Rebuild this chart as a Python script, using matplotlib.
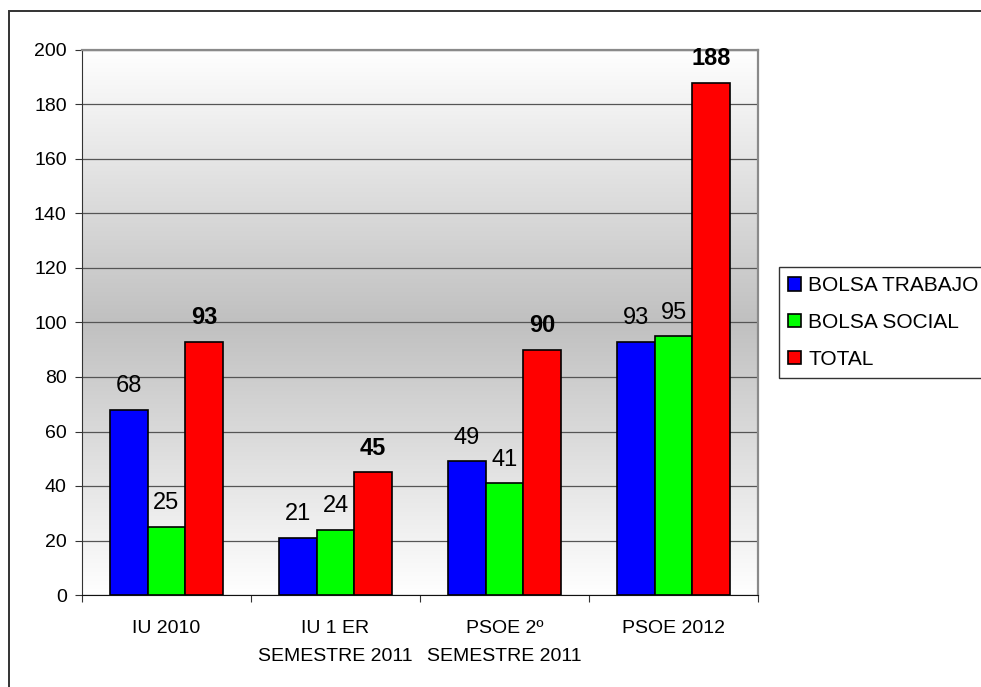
import numpy as np
import matplotlib.pyplot as plt
from matplotlib.colors import LinearSegmentedColormap
from matplotlib.patches import Rectangle

plt.rcParams['font.family'] = ['Liberation Sans', 'DejaVu Sans']

categories = ['IU 2010', 'IU 1 ER\nSEMESTRE 2011', 'PSOE 2º\nSEMESTRE 2011', 'PSOE 2012']
series_names = ['BOLSA TRABAJO', 'BOLSA SOCIAL', 'TOTAL']
bolsa_trabajo = [68, 21, 49, 93]
bolsa_social = [25, 24, 41, 95]
total = [93, 45, 90, 188]

colors = ['#0000FF', '#00FF00', '#FF0000']
bar_width = 0.222

fig = plt.figure(figsize=(9.81, 6.87), dpi=100)
ax = fig.add_axes([82/981, 1-595/687, (758-82)/981, (595-50)/687])

# grey gradient background (white - grey - white)
cmap = LinearSegmentedColormap.from_list('bg', ['#ffffff', '#c0c0c0', '#ffffff'])
grad = np.linspace(0, 1, 256).reshape(-1, 1)
ax.imshow(grad, cmap=cmap, aspect='auto', extent=[0, 1, 0, 1],
          transform=ax.transAxes, zorder=0)

x = np.arange(len(categories))
data = [bolsa_trabajo, bolsa_social, total]
for i, (vals, name, c) in enumerate(zip(data, series_names, colors)):
    pos = x + (i - 1) * bar_width
    ax.bar(pos, vals, bar_width, color=c, edgecolor='black', linewidth=1.2,
           label=name, zorder=3)
    for xp, v in zip(pos, vals):
        ax.annotate(str(v), (xp, v), xytext=(0, 9), textcoords='offset points',
                    ha='center', va='bottom', fontsize=17,
                    fontweight='bold' if i == 2 else 'normal', zorder=4)

ax.set_xlim(-0.5, 3.5)
ax.set_ylim(0, 200)
ax.set_yticks(range(0, 201, 20))
ax.grid(axis='y', color='#555555', linewidth=0.9, zorder=1)
ax.set_axisbelow(True)

ax.set_xticks(x)
ax.set_xticklabels(categories, fontsize=14, linespacing=1.85)
ax.set_xticks(np.arange(-0.5, 4, 1), minor=True)
ax.tick_params(axis='x', which='major', length=0, pad=18)
ax.tick_params(axis='x', which='minor', length=5, width=0.8, color='#333333')
ax.tick_params(axis='y', length=5, width=0.8, pad=6, labelsize=14, color='#333333')

for s in ['top', 'right']:
    ax.spines[s].set_color('#8a8a8a')
    ax.spines[s].set_linewidth(1.6)
ax.spines['left'].set_color('#333333')
ax.spines['bottom'].set_color('#111111')

leg = fig.legend(loc='upper left', bbox_to_anchor=(779/981, 1-267/687, 0.25, 0.0),
                 mode='expand', fontsize=15, frameon=True, fancybox=False,
                 edgecolor='black', handlelength=0.6, handleheight=0.6,
                 handletextpad=0.35, labelspacing=0.85, borderpad=0.45,
                 borderaxespad=0)
leg.get_frame().set_linewidth(1.0)

# outer chart border
fig.patches.append(Rectangle((9/981, -0.1), 1.1, 1.1 - 11.5/687,
                             transform=fig.transFigure, fill=False,
                             edgecolor='#333333', linewidth=1.4))

fig.savefig('out.png', dpi=100)
